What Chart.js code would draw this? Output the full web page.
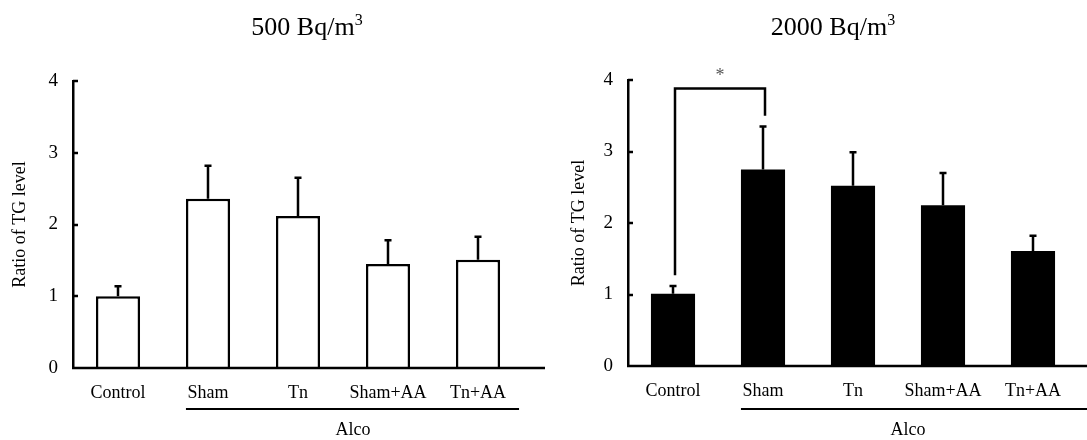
<!DOCTYPE html>
<html>
<head>
<meta charset="utf-8">
<script src="https://cdn.jsdelivr.net/npm/chart.js@4"></script>
<style>
  html, body { margin: 0; padding: 0; background: #fff; }
  .wrap { position: relative; width: 1087px; height: 440px; }
  #chart500 { position: absolute; left: 0; top: 0; }
  #chart2000 { position: absolute; left: 545px; top: 0; }
</style>
</head>
<body>
<div class="wrap">
  <canvas id="chart500" width="545" height="440"></canvas>
  <canvas id="chart2000" width="542" height="440"></canvas>
</div>
<script>
// TG ratio data
const categories = ['Control', 'Sham', 'Tn', 'Sham+AA', 'Tn+AA'];
const ratio500 = [1.00, 2.36, 2.12, 1.45, 1.51];
const err500 = [0.14, 0.46, 0.53, 0.33, 0.32];
const ratio2000 = [1.01, 2.75, 2.52, 2.25, 1.61];
const err2000 = [0.11, 0.60, 0.47, 0.45, 0.21];
const yTicks = [0, 1, 2, 3, 4];
// significance bracket (2000 Bq/m3): Control vs Sham
const sigPair = [0, 1];
const sigLevels = [1.27, 3.88, 3.50]; // left foot, top, right foot

const FONT = '"Liberation Serif", "Times New Roman", serif';
const LW = 2.5;

// error bars, inward y ticks, x axis, Alco group line, title, bracket
const figurePlugin = {
  id: 'figure',
  afterDatasetsDraw(chart, args, opts) {
    const ctx = chart.ctx;
    const y = chart.scales.y;
    const area = chart.chartArea;
    const bars = chart.getDatasetMeta(0).data;
    const vals = chart.data.datasets[0].data;
    ctx.save();
    ctx.strokeStyle = '#000';
    ctx.lineWidth = LW;

    // error bars
    opts.errors.forEach((e, i) => {
      const bx = bars[i].x;
      const y0 = y.getPixelForValue(vals[i]);
      const y1 = y.getPixelForValue(vals[i] + e);
      ctx.beginPath();
      ctx.moveTo(bx, y0);
      ctx.lineTo(bx, y1);
      ctx.moveTo(bx - 3.5, y1);
      ctx.lineTo(bx + 3.5, y1);
      ctx.stroke();
    });

    // inward y ticks
    yTicks.forEach(t => {
      if (t === 0) return;
      const py = Math.round(y.getPixelForValue(t));
      ctx.beginPath();
      ctx.moveTo(area.left, py);
      ctx.lineTo(area.left + 5, py);
      ctx.stroke();
    });

    // x axis line to the canvas edge
    const by = Math.round(y.getPixelForValue(0));
    ctx.beginPath();
    ctx.moveTo(area.left - 1, by);
    ctx.lineTo(chart.width, by);
    ctx.stroke();

    // Alco group line and label
    ctx.lineWidth = 2;
    const half = bars[1].width / 2;
    const gx0 = bars[1].x - half;
    const gx1 = Math.min(bars[4].x + half + opts.alcoTail, chart.width);
    ctx.beginPath();
    ctx.moveTo(gx0, opts.alcoY);
    ctx.lineTo(gx1, opts.alcoY);
    ctx.stroke();
    ctx.fillStyle = '#000';
    ctx.font = '18px ' + FONT;
    ctx.textAlign = 'center';
    ctx.textBaseline = 'middle';
    ctx.fillText('Alco', (gx0 + bars[4].x + half) / 2 + 10, 430);

    // title with superscript
    ctx.font = '26px ' + FONT;
    ctx.textBaseline = 'alphabetic';
    ctx.textAlign = 'left';
    const main = opts.title;
    const mw = ctx.measureText(main).width;
    ctx.font = '16px ' + FONT;
    const sw = ctx.measureText('3').width;
    const tx = opts.titleX - (mw + sw) / 2;
    ctx.font = '26px ' + FONT;
    ctx.fillText(main, tx, 35);
    ctx.font = '16px ' + FONT;
    ctx.fillText('3', tx + mw, 25);

    // significance bracket
    if (opts.bracket) {
      ctx.lineWidth = LW;
      const lx = bars[sigPair[0]].x + 2;
      const rx = bars[sigPair[1]].x + 2;
      const yl = y.getPixelForValue(sigLevels[0]);
      const yt = y.getPixelForValue(sigLevels[1]);
      const yr = y.getPixelForValue(sigLevels[2]);
      ctx.beginPath();
      ctx.moveTo(lx, yl);
      ctx.lineTo(lx, yt);
      ctx.lineTo(rx, yt);
      ctx.lineTo(rx, yr);
      ctx.stroke();
      ctx.fillStyle = '#555';
      ctx.font = '18px ' + FONT;
      ctx.textAlign = 'center';
      ctx.fillText('*', (lx + rx) / 2, yt - 8);
    }
    ctx.restore();
  }
};

function makeChart(id, values, cfg) {
  return new Chart(document.getElementById(id), {
    type: 'bar',
    data: {
      labels: categories,
      datasets: [{
        data: values,
        backgroundColor: cfg.fill,
        borderColor: '#000',
        borderWidth: cfg.border,
        barPercentage: 0.49,
        categoryPercentage: 1
      }]
    },
    options: {
      responsive: false,
      animation: false,
      devicePixelRatio: 1,
      layout: { padding: { left: 0, right: cfg.padRight, top: cfg.padTop, bottom: 0 } },
      plugins: {
        legend: { display: false },
        tooltip: { enabled: false },
        figure: {
          errors: cfg.errors, title: cfg.title, titleX: cfg.titleX,
          alcoY: 409, alcoTail: cfg.alcoTail, bracket: cfg.bracket
        }
      },
      scales: {
        x: {
          grid: { display: false, drawTicks: false },
          border: { display: false },
          ticks: { color: '#000', font: { family: FONT, size: 18 }, padding: 14, maxRotation: 0, autoSkip: false },
          afterFit: s => { s.height = cfg.xHeight; }
        },
        y: {
          min: 0, max: 4,
          afterBuildTicks: s => { s.ticks = yTicks.map(v => ({ value: v })); },
          grid: { display: false, drawTicks: false },
          border: { display: true, color: '#000', width: LW },
          ticks: { color: '#000', font: { family: FONT, size: 19 }, padding: 15 },
          title: {
            display: true, text: 'Ratio of TG level', color: '#000',
            font: { family: FONT, size: 18 }, padding: { top: cfg.yTitlePad, bottom: 0 }
          },
          afterFit: s => { s.width = cfg.yWidth; }
        }
      }
    },
    plugins: [figurePlugin]
  });
}

makeChart('chart500', ratio500, {
  fill: '#fff', border: LW, errors: err500, title: '500 Bq/m', titleX: 307,
  padRight: 22, padTop: 81, xHeight: 72, yWidth: 73, yTitlePad: 9,
  alcoTail: 19, bracket: false
});

makeChart('chart2000', ratio2000, {
  fill: '#000', border: 0, errors: err2000, title: '2000 Bq/m', titleX: 288,
  padRight: 9, padTop: 80, xHeight: 74, yWidth: 83, yTitlePad: 23,
  alcoTail: 40, bracket: true
});
</script>
</body>
</html>
